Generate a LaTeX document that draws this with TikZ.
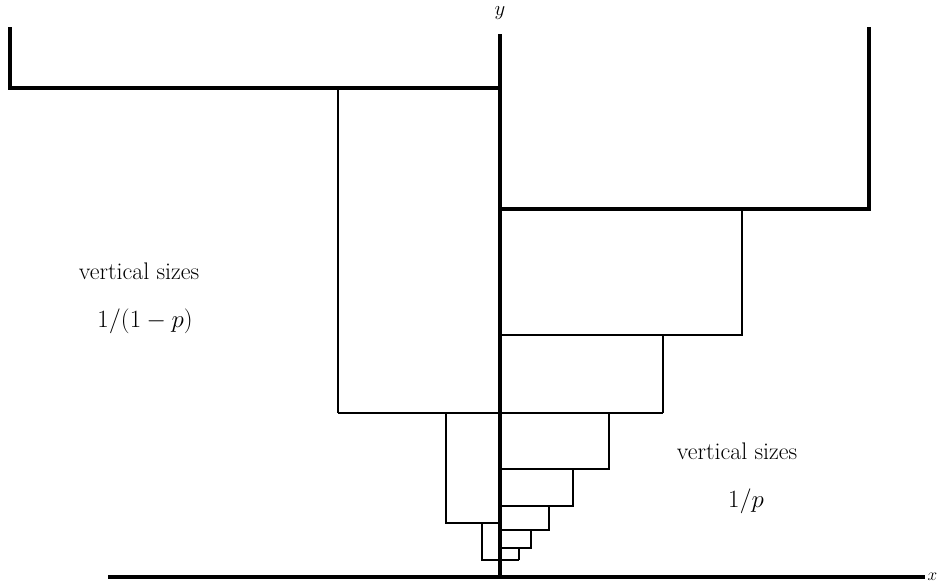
\documentclass[tikz,border=0pt]{standalone}
\begin{document}
\begin{tikzpicture}[x=1pt,y=-1pt,
  thickln/.style={line width=3.1pt},
  thinln/.style={line width=2.4pt},
  bigtxt/.style={font=\fontsize{24}{28}\selectfont, inner sep=0pt},
  axlbl/.style={font=\fontsize{22}{26}\selectfont, inner sep=0pt}]
\useasboundingbox (0,0) rectangle (938,587);
% axes
\draw[thickln] (108,577) -- (925,577);
\draw[thickln] (500,34) -- (500,577);
\node[axlbl] (ylab) at (500,13.5) {$y$};
\node[axlbl, font=\fontsize{18}{22}\selectfont, anchor=east] (xlab) at (937.5,577) {$x$};
% top-level boxes
\draw[thickln] (10,27) -- (10,88) -- (500,88);
\draw[thickln] (869,27) -- (869,209) -- (500,209);
% left side
\draw[thinln] (338,88) -- (338,413);
\draw[thinln] (338,413) -- (663,413);
\draw[thinln] (446,413) -- (446,523) -- (500,523);
\draw[thinln] (482,523) -- (482,560) -- (519,560);
% right side
\draw[thinln] (742,209) -- (742,335) -- (500,335);
\draw[thinln] (663,335) -- (663,413);
\draw[thinln] (609,413) -- (609,469) -- (500,469);
\draw[thinln] (573,469) -- (573,506) -- (500,506);
\draw[thinln] (549,506) -- (549,530) -- (500,530);
\draw[thinln] (531,530) -- (531,548) -- (500,548);
\draw[thinln] (519,548) -- (519,560);
% labels
\node[bigtxt] (l1) at (139,271) {vertical sizes};
\node[bigtxt] (l2) at (145,321) {$1/(1-p)$};
\node[bigtxt] (r1) at (737,451) {vertical sizes};
\node[bigtxt] (r2) at (746,501) {$1/p$};
\end{tikzpicture}
\end{document}
